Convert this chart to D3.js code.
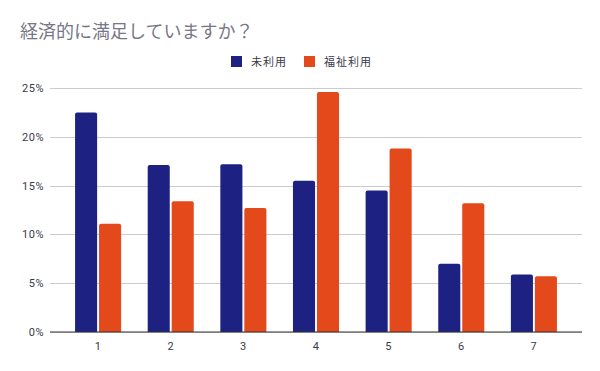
<!DOCTYPE html>
<head>
<meta charset="utf-8">
<script src="https://d3js.org/d3.v7.min.js"></script>
<style>
  body { margin: 0; background: #fff; }
  text { font-family: Roboto, "Noto Sans CJK JP", sans-serif; }
  text.title { font-size: 18px; fill: #777786; }
  text.legend { font-size: 11px; fill: #3a3a4a; letter-spacing: 1px; }
  .tick text { font-size: 11px; fill: #3a3a4a; letter-spacing: 0.5px; }
  .yAxis .tick line { stroke: #cccccc; shape-rendering: crispEdges; }
  path.domain { display: none; }
</style>
</head>
<body>
<script>
const categories = ['1', '2', '3', '4', '5', '6', '7'];
const seriesNames = ['未利用', '福祉利用'];
const unused = [22.5, 17.1, 17.2, 15.5, 14.5, 7.0, 5.9];
const welfare = [11.1, 13.4, 12.7, 24.6, 18.8, 13.2, 5.7];
const yTicks = [0, 5, 10, 15, 20, 25];
const colours = ['#1d2282', '#e4491b'];

const width = 600, height = 371;
const margin = {top: 88, right: 18, bottom: 39, left: 50};

const svg = d3.select('body').append('svg')
  .attr('width', width)
  .attr('height', height);

svg.append('text')
  .attr('class', 'title')
  .attr('x', 20)
  .attr('y', 38)
  .text('経済的に満足していますか？');

// legend
const legend = svg.append('g').attr('transform', 'translate(231,56)');
const legendX = [0, 73];
seriesNames.forEach((name, i) => {
  legend.append('rect')
    .attr('x', legendX[i])
    .attr('width', 11)
    .attr('height', 11)
    .attr('fill', colours[i]);
  legend.append('text')
    .attr('class', 'legend')
    .attr('x', legendX[i] + 20)
    .attr('y', 9.5)
    .text(name);
});

const x = d3.scaleBand()
  .domain(categories)
  .range([margin.left, width - margin.right])
  .paddingInner(0.366)
  .paddingOuter(0.345);

const xSub = d3.scaleBand()
  .domain([0, 1])
  .range([0, x.bandwidth()])
  .paddingInner(0.08);

const y = d3.scaleLinear()
  .domain([0, 25])
  .range([height - margin.bottom, margin.top]);

svg.append('g')
  .attr('class', 'axis yAxis')
  .attr('transform', `translate(${margin.left},0)`)
  .call(d3.axisLeft(y)
    .tickValues(yTicks)
    .tickSize(-(width - margin.left - margin.right))
    .tickPadding(6)
    .tickFormat(d => d + '%'));

const data = categories.map((c, i) => ({cat: c, vals: [unused[i], welfare[i]]}));

function topRounded(x0, y0, w, h, r) {
  r = Math.min(r, h);
  return `M${x0},${y0 + h}V${y0 + r}Q${x0},${y0} ${x0 + r},${y0}H${x0 + w - r}Q${x0 + w},${y0} ${x0 + w},${y0 + r}V${y0 + h}Z`;
}

const groups = svg.selectAll('g.group')
  .data(data)
  .enter()
  .append('g')
  .attr('class', 'group')
  .attr('transform', d => `translate(${x(d.cat)},0)`);

groups.selectAll('path.bar')
  .data(d => d.vals.map((v, i) => ({v, i})))
  .enter()
  .append('path')
  .attr('class', 'bar')
  .attr('fill', d => colours[d.i])
  .attr('d', d => topRounded(xSub(d.i), y(d.v), xSub.bandwidth(), y(0) - y(d.v), 2));

svg.append('g')
  .attr('class', 'axis xAxis')
  .attr('transform', `translate(0,${y(0)})`)
  .call(d3.axisBottom(x).tickSize(0).tickPadding(10));

svg.append('line')
  .attr('x1', margin.left)
  .attr('x2', width - margin.right)
  .attr('y1', y(0))
  .attr('y2', y(0))
  .attr('stroke', '#333')
  .attr('stroke-width', 1);
</script>
</body>
